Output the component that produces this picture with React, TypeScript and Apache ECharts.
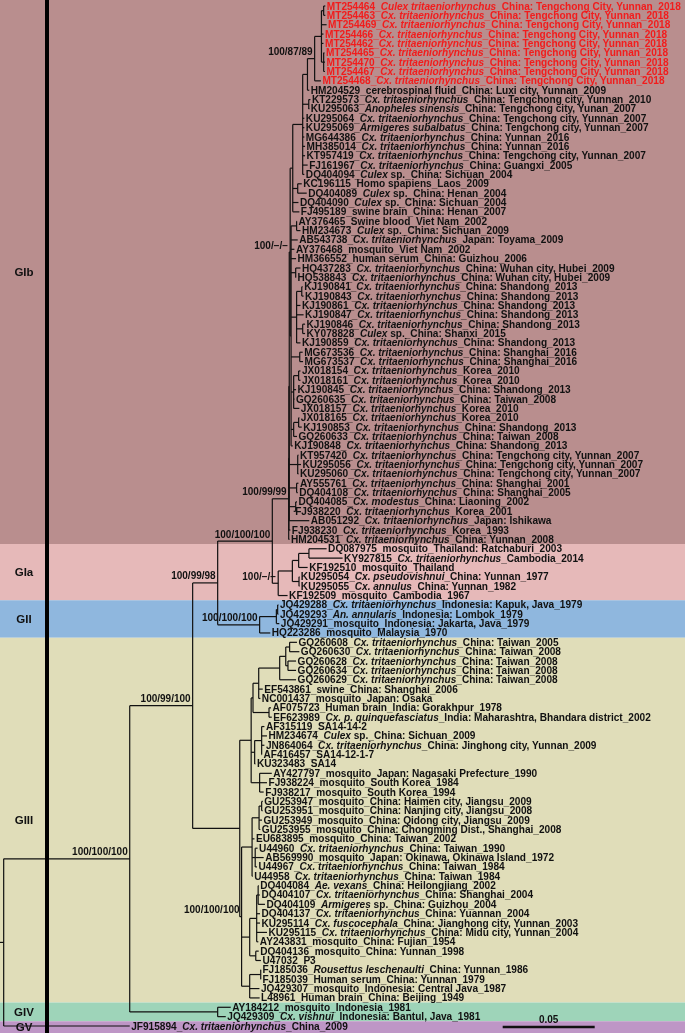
import React, { useEffect, useRef } from "react";
import * as echarts from "echarts";

// ---------------- data ----------------
const LEAF_LABELS: string[] = [
  "MT254464_*Culex tritaeniorhynchus*_China: Tengchong City, Yunnan_2018",
  "MT254463_*Cx. tritaeniorhynchus*_China: Tengchong City, Yunnan_2018",
  "MT254469_*Cx. tritaeniorhynchus*_China: Tengchong City, Yunnan_2018",
  "MT254466_*Cx. tritaeniorhynchus*_China: Tengchong City, Yunnan_2018",
  "MT254462_*Cx. tritaeniorhynchus*_China: Tengchong City, Yunnan_2018",
  "MT254465_*Cx. tritaeniorhynchus*_China: Tengchong City, Yunnan_2018",
  "MT254470_*Cx. tritaeniorhynchus*_China: Tengchong City, Yunnan_2018",
  "MT254467_*Cx. tritaeniorhynchus*_China: Tengchong City, Yunnan_2018",
  "MT254468_*Cx. tritaeniorhynchus*_China: Tengchong City, Yunnan_2018",
  "HM204529_cerebrospinal fluid_China: Luxi city, Yunnan_2009",
  "KT229573_*Cx. tritaeniorhynchus*_China: Tengchong city, Yunnan_2010",
  "KU295063_*Anopheles sinensis*_China: Tengchong city, Yunan_2007",
  "KU295064_*Cx. tritaeniorhynchus*_China: Tengchong city, Yunnan_2007",
  "KU295069_*Armigeres subalbatus*_China: Tengchong city, Yunnan_2007",
  "MG644386_*Cx. tritaeniorhynchus*_China: Yunnan_2016",
  "MH385014_*Cx. tritaeniorhynchus*_China: Yunnan_2016",
  "KT957419_*Cx. tritaeniorhynchus*_China: Tengchong city, Yunnan_2007",
  "FJ161967_*Cx. tritaeniorhynchus*_China: Guangxi_2005",
  "DQ404094_*Culex* sp._China: Sichuan_2004",
  "KC196115_Homo spapiens_Laos_2009",
  "DQ404089_*Culex* sp._China: Henan_2004",
  "DQ404090_*Culex* sp._China: Sichuan_2004",
  "FJ495189_swine brain_China: Henan_2007",
  "AY376465_Swine blood_Viet Nam_2002",
  "HM234673_*Culex* sp._China: Sichuan_2009",
  "AB543738_*Cx. tritaeniorhynchus*_Japan: Toyama_2009",
  "AY376468_mosquito_Viet Nam_2002",
  "HM366552_human serum_China: Guizhou_2006",
  "HQ437283_*Cx. tritaeniorhynchus*_China: Wuhan city, Hubei_2009",
  "HQ538843_*Cx. tritaeniorhynchus*_China: Wuhan city, Hubei_2009",
  "KJ190841_*Cx. tritaeniorhynchus*_China: Shandong_2013",
  "KJ190843_*Cx. tritaeniorhynchus*_China: Shandong_2013",
  "KJ190861_*Cx. tritaeniorhynchus*_China: Shandong_2013",
  "KJ190847_*Cx. tritaeniorhynchus*_China: Shandong_2013",
  "KJ190846_*Cx. tritaeniorhynchus*_China: Shandong_2013",
  "KY078828_*Culex* sp._China: Shanxi_2015",
  "KJ190859_*Cx. tritaeniorhynchus*_China: Shandong_2013",
  "MG673536_*Cx. tritaeniorhynchus*_China: Shanghai_2016",
  "MG673537_*Cx. tritaeniorhynchus*_China: Shanghai_2016",
  "JX018154_*Cx. tritaeniorhynchus*_Korea_2010",
  "JX018161_*Cx. tritaeniorhynchus*_Korea_2010",
  "KJ190845_*Cx. tritaeniorhynchus*_China: Shandong_2013",
  "GQ260635_*Cx. tritaeniorhynchus*_China: Taiwan_2008",
  "JX018157_*Cx. tritaeniorhynchus*_Korea_2010",
  "JX018165_*Cx. tritaeniorhynchus*_Korea_2010",
  "KJ190853_*Cx. tritaeniorhynchus*_China: Shandong_2013",
  "GQ260633_*Cx. tritaeniorhynchus*_China: Taiwan_2008",
  "KJ190848_*Cx. tritaeniorhynchus*_China: Shandong_2013",
  "KT957420_*Cx. tritaeniorhynchus*_China: Tengchong city, Yunnan_2007",
  "KU295056_*Cx. tritaeniorhynchus*_China: Tengchong city, Yunnan_2007",
  "KU295060_*Cx. tritaeniorhynchus*_China: Tengchong city, Yunnan_2007",
  "AY555761_*Cx. tritaeniorhynchus*_China: Shanghai_2001",
  "DQ404108_*Cx. tritaeniorhynchus*_China: Shanghai_2005",
  "DQ404085_*Cx. modestus*_China: Liaoning_2002",
  "FJ938220_*Cx. tritaeniorhynchus*_Korea_2001",
  "AB051292_*Cx. tritaeniorhynchus*_Japan: Ishikawa",
  "FJ938230_*Cx. tritaeniorhynchus*_Korea_1993",
  "HM204531_*Cx. tritaeniorhynchus*_China: Yunnan_2008",
  "DQ087975_mosquito_Thailand: Ratchaburi_2003",
  "KY927815_*Cx. tritaeniorhynchus*_Cambodia_2014",
  "KF192510_mosquito_Thailand",
  "KU295054_*Cx. pseudovishnui*_China: Yunnan_1977",
  "KU295055_*Cx. annulus*_China: Yunnan_1982",
  "KF192509_mosquito_Cambodia_1967",
  "JQ429288_*Cx. tritaeniorhynchus*_Indonesia: Kapuk, Java_1979",
  "JQ429293_*An. annularis*_Indonesia: Lombok_1979",
  "JQ429291_mosquito_Indonesia: Jakarta, Java_1979",
  "HQ223286_mosquito_Malaysia_1970",
  "GQ260608_*Cx. tritaeniorhynchus*_China: Taiwan_2005",
  "GQ260630_*Cx. tritaeniorhynchus*_China: Taiwan_2008",
  "GQ260628_*Cx. tritaeniorhynchus*_China: Taiwan_2008",
  "GQ260634_*Cx. tritaeniorhynchus*_China: Taiwan_2008",
  "GQ260629_*Cx. tritaeniorhynchus*_China: Taiwan_2008",
  "EF543861_swine_China: Shanghai_2006",
  "NC001437_mosquito_Japan: Osaka",
  "AF075723_Human brain_India: Gorakhpur_1978",
  "EF623989_*Cx. p. quinquefasciatus*_India: Maharashtra, Bhandara district_2002",
  "AF315119_SA14-14-2",
  "HM234674_*Culex* sp._China: Sichuan_2009",
  "JN864064_*Cx. tritaeniorhynchus*_China: Jinghong city, Yunnan_2009",
  "AF416457_SA14-12-1-7",
  "KU323483_SA14",
  "AY427797_mosquito_Japan: Nagasaki Prefecture_1990",
  "FJ938224_mosquito_South Korea_1984",
  "FJ938217_mosquito_South Korea_1994",
  "GU253947_mosquito_China: Haimen city, Jiangsu_2009",
  "GU253951_mosquito_China: Nanjing city, Jiangsu_2008",
  "GU253949_mosquito_China: Qidong city, Jiangsu_2009",
  "GU253955_mosquito_China: Chongming Dist., Shanghai_2008",
  "EU683895_mosquito_China: Taiwan_2002",
  "U44960_*Cx. tritaeniorhynchus*_China: Taiwan_1990",
  "AB569990_mosquito_Japan: Okinawa, Okinawa Island_1972",
  "U44967_*Cx. tritaeniorhynchus*_China: Taiwan_1984",
  "U44958_*Cx. tritaeniorhynchus*_China: Taiwan_1984",
  "DQ404084_*Ae. vexans*_China: Heilongjiang_2002",
  "DQ404107_*Cx. tritaeniorhynchus*_China: Shanghai_2004",
  "DQ404109_*Armigeres* sp._China: Guizhou_2004",
  "DQ404137_*Cx. tritaeniorhynchus*_China: Yuannan_2004",
  "KU295114_*Cx. fuscocephala*_China: Jianghong city, Yunnan_2003",
  "KU295115_*Cx. tritaeniorhynchus*_China: Midu city, Yunnan_2004",
  "AY243831_mosquito_China: Fujian_1954",
  "DQ404136_mosquito_China: Yunnan_1998",
  "U47032_P3",
  "FJ185036_*Rousettus leschenaulti*_China: Yunnan_1986",
  "FJ185039_Human serum_China: Yunnan_1979",
  "JQ429307_mosquito_Indonesia: Central Java_1987",
  "L48961_Human brain_China: Beijing_1949",
  "AY184212_mosquito_Indonesia_1981",
  "JQ429309_*Cx. vishnui*_Indonesia: Bantul, Java_1981",
  "JF915894_*Cx. tritaeniorhynchus*_China_2009",
];

// distance from the root to each tip (substitutions / site)
const LEAF_DIST: number[] = [
  0.1748, 0.1748, 0.1755, 0.1738, 0.1738, 0.1743, 0.1746, 0.1746, 0.1724, 0.1661,
  0.1667, 0.1661, 0.1634, 0.1634, 0.1634, 0.1638, 0.1638, 0.1652, 0.1634, 0.162,
  0.1647, 0.1602, 0.1607, 0.1594, 0.1613, 0.1598, 0.158, 0.1589, 0.1613, 0.1589,
  0.1625, 0.163, 0.1613, 0.163, 0.1638, 0.1638, 0.1613, 0.1625, 0.1627, 0.1613,
  0.1613, 0.1589, 0.158, 0.1607, 0.1607, 0.162, 0.1594, 0.1571, 0.1602, 0.1616,
  0.1602, 0.1602, 0.1598, 0.1594, 0.1576, 0.1661, 0.1558, 0.1553, 0.1755, 0.1842,
  0.1652, 0.1607, 0.1607, 0.1543, 0.1493, 0.1493, 0.1498, 0.1449, 0.1594, 0.1607,
  0.1589, 0.1589, 0.1589, 0.1408, 0.1395, 0.1453, 0.1457, 0.1417, 0.1431, 0.1417,
  0.1404, 0.1368, 0.1457, 0.1431, 0.1413, 0.1408, 0.1408, 0.1404, 0.1395, 0.1363,
  0.138, 0.1413, 0.1377, 0.1353, 0.1386, 0.1393, 0.142, 0.1393, 0.1393, 0.1431,
  0.1384, 0.1386, 0.1398, 0.1398, 0.1398, 0.139, 0.1391, 0.1234, 0.1207, 0.0685,
];
const HIGHLIGHT_COUNT = 9; // sequences of this study (red)

// topology: leaves are indices into LEAF_LABELS, internal nodes "(...)'support':distanceFromRoot"
const CLADE_RED = "(((0,1):0.1739,2,3,4,(5,6,7):0.1739):0.1727,8)'100/87/89':0.169";
const CLADE_YUNNAN = "(((" + CLADE_RED + ",9):0.1651,(10,11):0.1658,12,13,14,15,16,17,18):0.1625,(19,20):0.1598,21,22):0.1571";
const CLADE_REST =
  "((23,24):0.1592,25,26,27,(28,29):0.1587,((30,31):0.162,32,33,(34,35):0.1625,36):0.1592,(37,38):0.1609,((39,40):0.1603,41,42,43):0.1576,((44,45):0.1603,46):0.1576,47):0.1562";
const CLADE_GIB_CORE = "(" + CLADE_YUNNAN + "," + CLADE_REST + ")'100/−/−':0.1557";
const CLADE_GIB =
  "(((" + CLADE_GIB_CORE + ",(48,49,50):0.1598,(51,52):0.1592,(53,54):0.1587,55):0.1552,56):0.155,57)'100/99/99':0.1549";
const CLADE_GIA = "((((58,59):0.1659,60):0.1603,(61,62):0.1605):0.1569,63)'100/−/−':0.1492";
const CLADE_GI = "(" + CLADE_GIB + "," + CLADE_GIA + ")'100/100/100':0.146";
const CLADE_GII = "(((64,65):0.1489,66):0.1482,67)'100/100/100':0.1391";
const CLADE_GI_GII = "(" + CLADE_GI + "," + CLADE_GII + ")'100/99/98':0.1163";
const CLADE_GIII_A =
  "((((((68,69):0.1554,(70,71):0.1545):0.1533,72):0.15,73,74):0.1386,(75,76):0.1442):0.1355,((77,78,79,80):0.1402,81):0.1364,(82,83,84):0.1391):0.1345";
const CLADE_GIII_H = "(((85,86):0.1402,87,88):0.1388,89,(90,91,92):0.1367,93):0.135";
const CLADE_GIII_M = "(((94,95,96):0.1383,97,98,99,100):0.1375,(101,102):0.137):0.1337";
const CLADE_GIII_N = "((103,104):0.1397,105,106):0.1337";
const CLADE_GIII_B = "(" + CLADE_GIII_H + "," + CLADE_GIII_M + "," + CLADE_GIII_N + ")'100/100/100':0.1293";
const CLADE_GIII = "(" + CLADE_GIII_A + "," + CLADE_GIII_B + "):0.1283";
const CLADE_GI_GIII = "(" + CLADE_GI_GII + "," + CLADE_GIII + ")'100/99/100':0.1027";
const CLADE_GIV = "(107,108):0.1163";
const TREE = "((" + CLADE_GI_GIII + "," + CLADE_GIV + ")'100/100/100':0.0685,109):0";

const GROUP_NAMES = ["GIb", "GIa", "GII", "GIII", "GIV", "GV"];
const GROUP_FIRST = [0, 58, 64, 68, 107, 109];
const GROUP_LAST = [57, 63, 67, 106, 108, 109];
const GROUP_COLORS = ["#b98e8e", "#e6b9b9", "#8fb7de", "#e0ddb9", "#9ed4b9", "#be96c6"];

const SCALE_LENGTH = 0.05;
const SCALE_START = 0.2712;
const SCALE_LABEL = "0.05";

// ---------------- helpers ----------------
type TNode = { children: TNode[]; leaf?: number; depth: number; support?: string; y: number };

function parseTree(s: string): TNode {
  let i = 0;
  const node = (): TNode => {
    if (s[i] === "(") {
      i++;
      const children = [node()];
      while (s[i] === ",") {
        i++;
        children.push(node());
      }
      i++; // ')'
      let support: string | undefined;
      if (s[i] === "'") {
        const j = s.indexOf("'", i + 1);
        support = s.slice(i + 1, j);
        i = j + 1;
      }
      let depth = 0;
      if (s[i] === ":") {
        i++;
        const m = /^[0-9.]+/.exec(s.slice(i))!;
        depth = parseFloat(m[0]);
        i += m[0].length;
      }
      return { children, depth, support, y: 0 };
    }
    const m = /^\d+/.exec(s.slice(i))!;
    i += m[0].length;
    const idx = parseInt(m[0], 10);
    return { children: [], leaf: idx, depth: LEAF_DIST[idx], y: idx };
  };
  return node();
}

function layout(n: TNode): number {
  if (n.leaf !== undefined) return (n.y = n.leaf);
  n.children.forEach(layout);
  n.y = (n.children[0].y + n.children[n.children.length - 1].y) / 2;
  return n.y;
}

const FONT = "Liberation Sans";
const LEAF_SIZE = 10.1;

function richLabel(text: string, red: boolean): string {
  const parts = text.split("*");
  return parts
    .map((p, k) => (p === "" ? "" : "{" + (red ? "r" : "n") + (k % 2 === 1 ? "i" : "") + "|" + p + "}"))
    .join("");
}

const mk = (fill: string, italic: boolean) => ({
  fill,
  color: fill,
  fontSize: LEAF_SIZE,
  fontFamily: FONT,
  fontWeight: "bold",
  fontStyle: italic ? "italic" : "normal",
});
const RICH = {
  n: mk("#111", false),
  ni: mk("#111", true),
  r: mk("#f21c1c", false),
  ri: mk("#f21c1c", true),
};

export default function App() {
  const ref = useRef<HTMLDivElement>(null);
  useEffect(() => {
    const chart = echarts.init(ref.current!, null, { renderer: "svg" });
    const root = parseTree(TREE);
    layout(root);

    const segs: number[][] = [];
    const supports: any[] = [];
    const walk = (n: TNode, parentDepth: number | null) => {
      if (parentDepth !== null) segs.push([parentDepth, n.y, n.depth, n.y]);
      else segs.push([-0.002, n.y, n.depth, n.y]);
      if (n.children.length) {
        segs.push([n.depth, n.children[0].y, n.depth, n.children[n.children.length - 1].y]);
        if (n.support) supports.push([n.depth, n.y, n.support]);
        n.children.forEach((c) => walk(c, n.depth));
      }
    };
    walk(root, null);

    const leafData = LEAF_DIST.map((d, i) => [d, i]);
    const bandData = GROUP_NAMES.map((_, g) => [GROUP_FIRST[g] - 0.5, GROUP_LAST[g] + 0.5, g]);

    chart.setOption({
      animation: false,
      grid: { left: 0, right: 0, top: 6, bottom: 7 },
      xAxis: { type: "value", min: -0.002, max: -0.002 + 685 / 1840, show: false },
      yAxis: { type: "value", min: 0, max: LEAF_LABELS.length - 1, inverse: true, show: false },
      graphic: [
        {
          type: "rect",
          left: 45,
          top: 0,
          z: 5,
          shape: { width: 4, height: 1033 },
          style: { fill: "#000" },
        },
      ],
      series: [
        {
          type: "custom",
          z: 0,
          clip: false,
          silent: true,
          data: bandData,
          renderItem: (params: any, api: any) => {
            const g = api.value(2);
            let top = api.coord([0, api.value(0)])[1];
            let bottom = api.coord([0, api.value(1)])[1];
            if (g === 0) top = 0;
            if (g === GROUP_NAMES.length - 1) bottom = api.getHeight();
            const mid = (top + bottom) / 2;
            return {
              type: "group",
              children: [
                {
                  type: "rect",
                  shape: { x: 0, y: top, width: api.getWidth(), height: bottom - top },
                  style: { fill: GROUP_COLORS[g] },
                },
                {
                  type: "text",
                  x: 24,
                  y: mid,
                  z2: 10,
                  style: {
                    text: GROUP_NAMES[g],
                    fill: "#111",
                    fontSize: 11.5,
                    fontFamily: FONT,
                    fontWeight: "bold",
                    align: "center",
                    verticalAlign: "middle",
                    textAlign: "center",
                    textVerticalAlign: "middle",
                  },
                },
              ],
            };
          },
        },
        {
          type: "custom",
          z: 2,
          clip: false,
          silent: true,
          data: segs,
          renderItem: (params: any, api: any) => {
            const p1 = api.coord([api.value(0), api.value(1)]);
            const p2 = api.coord([api.value(2), api.value(3)]);
            return {
              type: "line",
              shape: { x1: p1[0], y1: p1[1], x2: p2[0], y2: p2[1] },
              style: { stroke: "#111", lineWidth: 1.2 },
            };
          },
        },
        {
          type: "custom",
          z: 3,
          clip: false,
          silent: true,
          data: leafData,
          renderItem: (params: any, api: any) => {
            const i = params.dataIndex;
            const p = api.coord([api.value(0), api.value(1)]);
            return {
              type: "text",
              x: p[0] + 1.5,
              y: p[1],
              style: {
                text: richLabel(LEAF_LABELS[i], i < HIGHLIGHT_COUNT),
                rich: RICH,
                fill: "#111",
                fontSize: LEAF_SIZE,
                fontFamily: FONT,
                fontWeight: "bold",
                align: "left",
                verticalAlign: "middle",
                textAlign: "left",
                textVerticalAlign: "middle",
              },
            };
          },
        },
        {
          type: "custom",
          z: 3,
          clip: false,
          silent: true,
          data: supports,
          renderItem: (params: any, api: any) => {
            const p = api.coord([api.value(0), api.value(1)]);
            return {
              type: "text",
              x: p[0] - 2,
              y: p[1] - 2,
              style: {
                text: supports[params.dataIndex][2],
                fill: "#111",
                fontSize: 10,
                fontFamily: FONT,
                fontWeight: "bold",
                align: "right",
                verticalAlign: "bottom",
                textAlign: "right",
                textVerticalAlign: "bottom",
              },
            };
          },
        },
        {
          type: "custom",
          z: 3,
          clip: false,
          silent: true,
          data: [[SCALE_START, SCALE_START + SCALE_LENGTH, LEAF_LABELS.length - 1]],
          renderItem: (params: any, api: any) => {
            const p1 = api.coord([api.value(0), api.value(2)]);
            const p2 = api.coord([api.value(1), api.value(2)]);
            return {
              type: "group",
              children: [
                {
                  type: "line",
                  shape: { x1: p1[0], y1: p1[1] + 1, x2: p2[0], y2: p2[1] + 1 },
                  style: { stroke: "#111", lineWidth: 2.5 },
                },
                {
                  type: "text",
                  x: (p1[0] + p2[0]) / 2,
                  y: p1[1] - 2,
                  style: {
                    text: SCALE_LABEL,
                    fill: "#111",
                    fontSize: 10,
                    fontFamily: FONT,
                    fontWeight: "bold",
                    align: "center",
                    verticalAlign: "bottom",
                    textAlign: "center",
                    textVerticalAlign: "bottom",
                  },
                },
              ],
            };
          },
        },
      ],
    });
    return () => chart.dispose();
  }, []);
  return <div ref={ref} style={{ position: "fixed", left: 0, top: 0, width: 685, height: 1033 }} />;
}
